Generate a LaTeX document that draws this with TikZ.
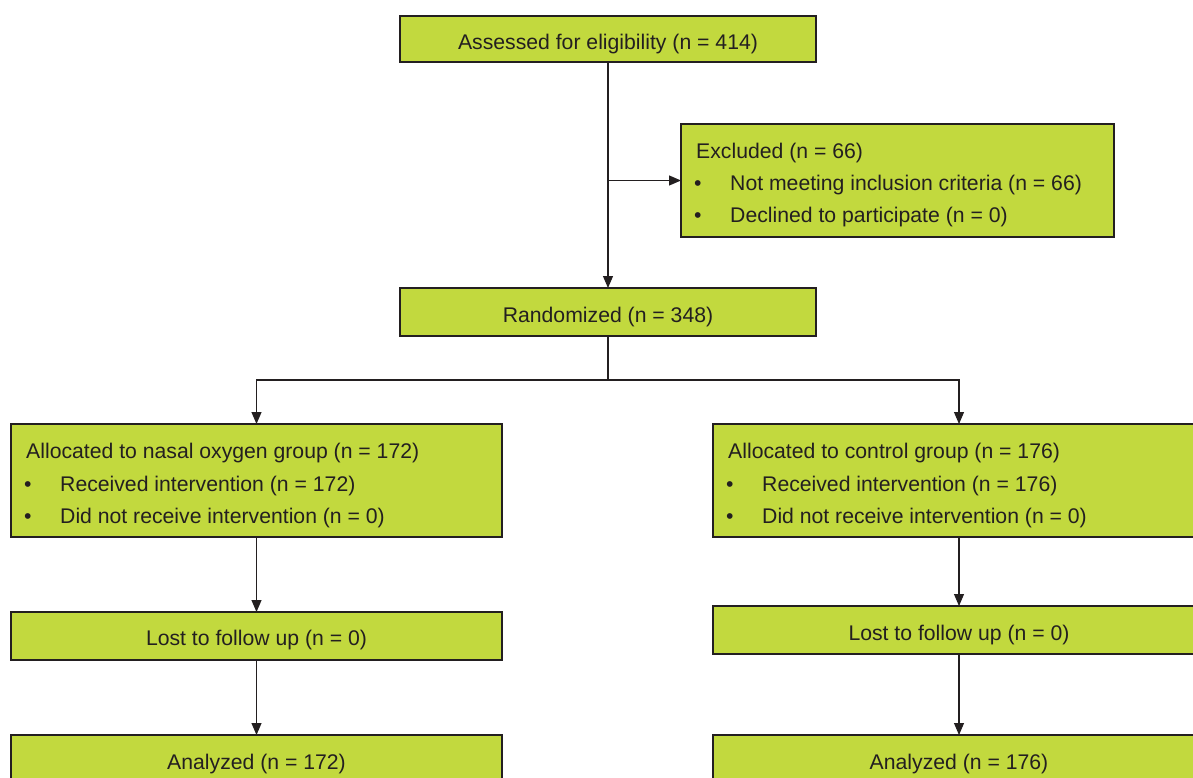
\documentclass[tikz,border=0pt]{standalone}
\usepackage{fontspec}
\setmainfont{Liberation Sans}
\usetikzlibrary{arrows.meta}
\definecolor{boxgreen}{HTML}{C2D93E}
\definecolor{ink}{HTML}{231F20}
\begin{document}
\begin{tikzpicture}[x=1pt,y=-1pt,
  box/.style={draw=ink,line width=1.3pt,fill=boxgreen,minimum width=#1,inner sep=0pt,outer sep=0pt},
  txt/.style={anchor=base west,inner sep=0pt,text=ink,font=\fontsize{21.2}{25}\selectfont},
  ctxt/.style={anchor=base,inner sep=0pt,text=ink,font=\fontsize{21.2}{25}\selectfont},
  conn/.style={draw=ink,line width=1.1pt},
  arr/.style={conn,-{Triangle[length=12pt,width=10pt]}}]
\useasboundingbox (0,0) rectangle (1193,778);
\clip (0,0) rectangle (1193,778);
% boxes
\node[box=416pt,minimum height=46pt] (top) at (608,39) {};
\node[box=433pt,minimum height=113pt] (excl) at (897.5,180.5) {};
\node[box=416pt,minimum height=48pt] (rand) at (608,312) {};
\node[box=491pt,minimum height=113pt] (alloL) at (256.5,480.5) {};
\node[box=492pt,minimum height=113pt] (alloR) at (959,480.5) {};
\node[box=491pt,minimum height=48pt] (lostL) at (256.5,636) {};
\node[box=492pt,minimum height=48pt] (lostR) at (959,630) {};
\node[box=491pt,minimum height=90pt] (anaL) at (256.5,780) {};
\node[box=492pt,minimum height=90pt] (anaR) at (959,780) {};
% texts
\node[ctxt] (t1) at (608,49.5) {Assessed for eligibility (n = 414)};
\node[txt] (e1) at (696,158.5) {Excluded (n = 66)};
\node[txt] (e2b) at (694,190.5) {•};
\node[txt] (e2) at (730,190.5) {Not meeting inclusion criteria (n = 66)};
\node[txt] (e3b) at (694,222.5) {•};
\node[txt] (e3) at (730,222.5) {Declined to participate (n = 0)};
\node[ctxt] (r1) at (608,322) {Randomized (n = 348)};
\node[txt] (l1) at (26,458.5) {Allocated to nasal oxygen group (n = 172)};
\node[txt] (l2b) at (24,491) {•};
\node[txt] (l2) at (60,491) {Received intervention (n = 172)};
\node[txt] (l3b) at (24,523.5) {•};
\node[txt] (l3) at (60,523.5) {Did not receive intervention (n = 0)};
\node[txt] (g1) at (728,458.5) {Allocated to control group (n = 176)};
\node[txt] (g2b) at (726,491) {•};
\node[txt] (g2) at (762,491) {Received intervention (n = 176)};
\node[txt] (g3b) at (726,523.5) {•};
\node[txt] (g3) at (762,523.5) {Did not receive intervention (n = 0)};
\node[ctxt] (lo1) at (256.5,645.5) {Lost to follow up (n = 0)};
\node[ctxt] (lo2) at (959,640) {Lost to follow up (n = 0)};
\node[ctxt] (a1) at (256.5,769.5) {Analyzed (n = 172)};
\node[ctxt] (a2) at (959,769.5) {Analyzed (n = 176)};
% connectors
\coordinate (j1) at (top.south |- excl.west);
\coordinate (split) at (608,380);
\draw[arr] (top.south) -- (rand.north);
\draw[arr] (j1) -- (excl.west);
\draw[conn] (rand.south) -- (split);
\draw[arr] (split) -| (alloL.north);
\draw[arr] (split) -| (alloR.north);
\draw[arr] (alloL.south) -- (lostL.north);
\draw[arr] (alloR.south) -- (lostR.north);
\draw[arr] (lostL.south) -- (anaL.north);
\draw[arr] (lostR.south) -- (anaR.north);
\end{tikzpicture}
\end{document}
